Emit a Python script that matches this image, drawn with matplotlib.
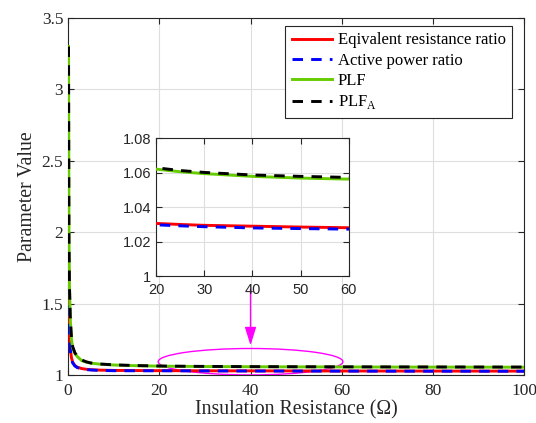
import numpy as np
import matplotlib
matplotlib.use('Agg')
from matplotlib import pyplot as plt
from matplotlib.patches import Ellipse

plt.rcParams['font.family'] = ['Liberation Serif', 'DejaVu Serif']
plt.rcParams['mathtext.fontset'] = 'custom'
plt.rcParams['mathtext.rm'] = 'Liberation Serif'

# 数据：绝缘电阻及各参数值
R = [0.1, 0.2, 0.3, 0.5, 0.75, 1, 1.5, 2, 3, 4, 5, 7, 10, 15,
     20, 25, 30, 40, 50, 60, 70, 80, 90, 100]
eq_ratio = [1.90, 1.45, 1.30, 1.18, 1.12, 1.09, 1.066, 1.055, 1.045, 1.040, 1.037, 1.034, 1.032, 1.031,
            1.0305, 1.0299, 1.0294, 1.0289, 1.0284, 1.0280, 1.0277, 1.0275, 1.0273, 1.0271]
p_ratio = [1.88, 1.44, 1.29, 1.17, 1.11, 1.085, 1.063, 1.052, 1.043, 1.038, 1.035, 1.032, 1.030, 1.0295,
           1.0297, 1.0291, 1.0286, 1.0279, 1.0275, 1.0272, 1.0269, 1.0267, 1.0265, 1.0263]
plf = [3.30, 1.95, 1.62, 1.38, 1.25, 1.19, 1.15, 1.13, 1.10, 1.09, 1.083, 1.076, 1.070, 1.065,
       1.0620, 1.0605, 1.0594, 1.0578, 1.0568, 1.0562, 1.0556, 1.0552, 1.0548, 1.0545]
plf_a = [3.30, 1.96, 1.63, 1.39, 1.26, 1.20, 1.155, 1.133, 1.105, 1.092, 1.084, 1.077, 1.071, 1.066,
         1.0628, 1.0612, 1.0601, 1.0586, 1.0578, 1.0572, 1.0566, 1.0562, 1.0558, 1.0555]

green = '#66CC00'
dash = (3.6, 2.8)
lw = 2.1

fig = plt.figure(figsize=(5.36, 4.23), dpi=100)
ax = fig.add_axes([0.127, 0.1135, 0.851, 0.844])

def draw(a):
    a.plot(R, eq_ratio, color='red', lw=lw, label='Eqivalent resistance ratio', zorder=6)
    a.plot(R, p_ratio, color='blue', lw=lw, dashes=dash, label='Active power ratio', zorder=6)
    a.plot(R, plf, color=green, lw=lw, label='PLF', zorder=6)
    a.plot(R, plf_a, color='black', lw=lw, dashes=dash, label='PLF$_\\mathrm{A}$', zorder=6)

def style(a, fs):
    a.grid(True, color='#dedede', lw=0.8)
    a.set_axisbelow(True)
    a.tick_params(direction='in', top=True, right=True, length=4, width=0.8,
                  colors='#262626', labelsize=fs)
    for s in a.spines.values():
        s.set_color('#262626')
        s.set_linewidth(0.8)

draw(ax)
style(ax, 12.5)
ax.set_xlim(0, 100)
ax.set_ylim(1, 3.5)
ax.set_xticks([0, 20, 40, 60, 80, 100])
ax.set_yticks([1, 1.5, 2, 2.5, 3, 3.5])
ax.set_yticklabels(['1', '1.5', '2', '2.5', '3', '3.5'])
ax.set_xlabel('Insulation Resistance (Ω)', fontsize=14.3, color='#262626', labelpad=1)
ax.set_ylabel('Parameter Value', fontsize=14.3, color='#262626', labelpad=3)
ax.tick_params(axis='x', pad=6)

leg = ax.legend(loc='upper right', bbox_to_anchor=(0.974, 0.978), borderaxespad=0,
                fontsize=12, frameon=True, fancybox=False, framealpha=1,
                edgecolor='#262626', handlelength=2.4, borderpad=0.4,
                labelspacing=0.26, handletextpad=0.36)
leg.get_frame().set_linewidth(0.8)
leg.set_zorder(10)

# 放大区域的椭圆和箭头
ax.add_patch(Ellipse((40, 1.093), 40.5, 0.185, fill=False, edgecolor='#FF00FF', lw=1.0, zorder=5))
ax.annotate('', xy=(40, 1.188), xytext=(40, 1.62),
            arrowprops=dict(arrowstyle='-|>,head_length=0.8,head_width=0.25',
                            color='#FF00FF', lw=1.0, mutation_scale=14))

# 局部放大子图
ins = fig.add_axes([0.291, 0.3475, 0.360, 0.326])
draw(ins)
style(ins, 10.5)
ins.set_xlim(20, 60)
ins.set_ylim(1, 1.08)
ins.set_xticks([20, 30, 40, 50, 60])
ins.set_yticks([1, 1.02, 1.04, 1.06, 1.08])
ins.set_yticklabels(['1', '1.02', '1.04', '1.06', '1.08'], family='Liberation Sans')
ins.set_xticklabels(['20', '30', '40', '50', '60'], family='Liberation Sans')
ins.tick_params(axis='x', pad=5)

plt.savefig('out.png', dpi=100)
